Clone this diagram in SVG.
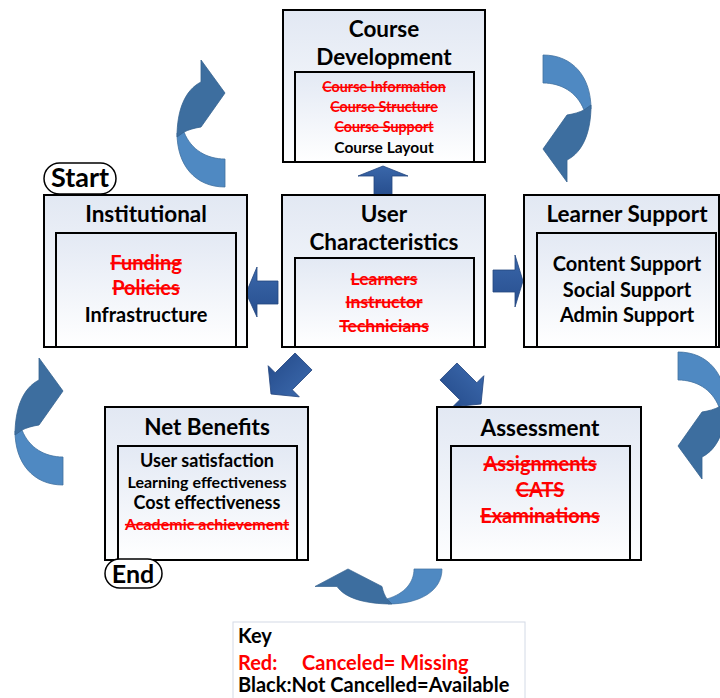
<svg xmlns="http://www.w3.org/2000/svg" width="720" height="698" viewBox="0 0 720 698">
<defs>
<linearGradient id="gOuter" x1="0" y1="0" x2="0" y2="1"><stop offset="0" stop-color="#E2E8F3"/><stop offset="1" stop-color="#FDFEFF"/></linearGradient>
<linearGradient id="gInner" x1="0" y1="0" x2="0" y2="1"><stop offset="0" stop-color="#E3E9F4"/><stop offset="1" stop-color="#FFFFFF"/></linearGradient>
<linearGradient id="gBlock" x1="0" y1="0" x2="0" y2="1"><stop offset="0" stop-color="#3A67AA"/><stop offset="1" stop-color="#274E8E"/></linearGradient>
<path id="blk" d="M0,0 L-18,-22 L-18,-12 L-46,-12 L-46,12 L-18,12 L-18,22 Z"/>
<g id="curv">
<path class="cl" d="M0,73 C0,105 18,127 48,127 L48,99 C30,99 14,90 7,72 Z"/>
<path class="cd" d="M24,0 L48,33 L24,67 C17,68 11,70 7,72 L0,77 C0,50 8,30 24,22 Z"/>
</g>
</defs>
<style>
.box{fill:url(#gOuter);stroke:#000;stroke-width:2}
.inner{fill:url(#gInner);stroke:#000;stroke-width:2}
.t{font-family:Lato,"Open Sans",sans-serif;font-weight:bold;text-anchor:middle;fill:#000}
.ti{font-size:22.5px}
.m{fill:#FF0000;text-decoration:line-through}
.pill{fill:#fff;stroke:#000;stroke-width:1.5}
.ba{fill:url(#gBlock);stroke:#23467F;stroke-width:0.8}
.cl{fill:#4F89C2;stroke:#41719F;stroke-width:0.8}
.cd{fill:#3D6E9F;stroke:#35628F;stroke-width:0.8}
</style>

<g id="connectors">
<polygon class="ba" points="383,166 408,176 392,176 392,195 374,195 374,176 358,176"/>
<polygon class="ba" points="246,293 257,267 257,281 278,281 278,304 257,304 257,317"/>
<polygon class="ba" points="523,281 515,307 515,292 493,292 493,270 515,270 515,255"/>
<use href="#blk" class="ba" transform="translate(271,394) rotate(135)"/>
<use href="#blk" class="ba" transform="translate(481,404) rotate(45)"/>
<use href="#curv" transform="translate(177,60)"/>
<use href="#curv" transform="translate(15,358)"/>
<use href="#curv" transform="translate(591,182) rotate(180)"/>
<use href="#curv" transform="translate(726,479) rotate(180)"/>
<use href="#curv" transform="translate(315,604) scale(1,0.73) rotate(-90)"/>
</g>

<g id="course-development">
<rect class="box" x="283" y="10" width="202" height="152"/>
<rect class="inner" x="295" y="72" width="179" height="90"/>
<text class="t ti" x="384" y="37">Course</text>
<text class="t ti" x="384" y="65">Development</text>
<text class="t m" x="384" y="92" font-size="14.3">Course Information</text>
<text class="t m" x="384" y="112" font-size="14.3">Course Structure</text>
<text class="t m" x="384" y="132" font-size="14.3">Course Support</text>
<text class="t" x="384" y="153" font-size="15.5">Course Layout</text>
</g>

<g id="start">
<rect class="pill" x="44" y="163" width="72" height="31" rx="15.5"/>
<text class="t" x="80" y="187" font-size="27">Start</text>
</g>

<g id="institutional">
<rect class="box" x="44" y="195" width="203" height="152"/>
<rect class="inner" x="56" y="233" width="180" height="114"/>
<text class="t ti" x="146" y="222">Institutional</text>
<text class="t m" x="146" y="270" font-size="20">Funding</text>
<text class="t m" x="146" y="295" font-size="20">Policies</text>
<text class="t" x="146" y="322" font-size="20">Infrastructure</text>
</g>

<g id="user-characteristics">
<rect class="box" x="282" y="195" width="203" height="152"/>
<rect class="inner" x="295" y="258" width="179" height="89"/>
<text class="t ti" x="384" y="222">User</text>
<text class="t ti" x="384" y="250">Characteristics</text>
<text class="t m" x="384" y="285" font-size="17.5">Learners</text>
<text class="t m" x="384" y="308" font-size="17.5">Instructor</text>
<text class="t m" x="384" y="332" font-size="17.5">Technicians</text>
</g>

<g id="learner-support">
<rect class="box" x="524" y="195" width="195" height="152"/>
<rect class="inner" x="537" y="233" width="179" height="114"/>
<text class="t ti" x="627" y="222">Learner Support</text>
<text class="t" x="627" y="271" font-size="20">Content Support</text>
<text class="t" x="627" y="297" font-size="20">Social Support</text>
<text class="t" x="627" y="322" font-size="20">Admin Support</text>
</g>

<g id="net-benefits">
<rect class="box" x="105" y="407" width="203" height="153"/>
<rect class="inner" x="118" y="446" width="179" height="114"/>
<text class="t ti" x="207" y="435">Net Benefits</text>
<text class="t" x="207" y="467" font-size="18">User satisfaction</text>
<text class="t" x="207" y="488" font-size="16">Learning effectiveness</text>
<text class="t" x="207" y="509" font-size="18">Cost effectiveness</text>
<text class="t m" x="207" y="530" font-size="16">Academic achievement</text>
</g>

<g id="end">
<rect class="pill" x="105" y="559" width="57" height="29" rx="14.5"/>
<text class="t" x="133" y="583" font-size="25">End</text>
</g>

<g id="assessment">
<rect class="box" x="437" y="407" width="204" height="153"/>
<rect class="inner" x="451" y="446" width="179" height="114"/>
<text class="t ti" x="540" y="436">Assessment</text>
<text class="t m" x="540" y="471" font-size="20">Assignments</text>
<text class="t m" x="540" y="497" font-size="20">CATS</text>
<text class="t m" x="540" y="523" font-size="20">Examinations</text>
</g>

<g id="key">
<rect x="233" y="622" width="292" height="80" fill="#fff" stroke="#D3DAE6" stroke-width="1"/>
<text class="t" x="238" y="643" font-size="20" style="text-anchor:start">Key</text>
<text class="t" x="238" y="670" font-size="20" style="text-anchor:start;fill:#FF0000"><tspan x="238">Red:</tspan><tspan x="302">Canceled= Missing</tspan></text>
<text class="t" x="238" y="692" font-size="20" style="text-anchor:start">Black:Not Cancelled=Available</text>
</g>
</svg>
